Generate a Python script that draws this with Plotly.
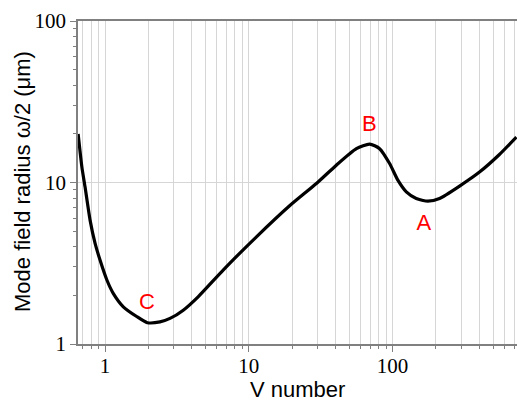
import plotly.graph_objects as go

v_number = [0.65, 0.69, 0.726, 0.787, 0.852, 0.923, 1.03, 1.14, 1.34, 1.66, 1.97,
            2.41, 2.83, 3.5, 4.44, 6.63, 11.3, 19.3, 29.5, 40.6, 56, 69.2, 81.2,
            95.3, 109, 124.5, 146, 176, 212, 292, 402, 553, 726]
mode_radius = [20, 12.5, 9.4, 5.85, 4.21, 3.31, 2.49, 2.06, 1.70, 1.48, 1.355,
               1.37, 1.44, 1.62, 1.96, 2.87, 4.61, 7.2, 9.86, 12.8, 16.2, 17.3, 16.2,
               13.1, 10.3, 8.75, 7.96, 7.66, 7.96, 9.5, 11.6, 14.9, 19.1]

point_labels = ["A", "B", "C"]
point_x = [165, 69, 1.96]
point_y = [5.52, 22.6, 1.79]

x_tickvals = [1, 10, 100]
x_ticktext = ["1", "10", "100"]
x_minor = [0.7, 0.8, 0.9, 2, 3, 4, 5, 6, 7, 8, 9, 20, 30, 40, 50, 60, 70, 80, 90,
           200, 300, 400, 500, 600, 700]
y_tickvals = [1, 10, 100]
y_ticktext = ["1", "10", "100"]
y_minor = [2, 3, 4, 5, 6, 7, 8, 9, 20, 30, 40, 50, 60, 70, 80, 90]

W, H = 517, 401
ML, MR, MT, MB = 78, 0, 21, 57
PW, PH = W - ML - MR, H - MT - MB

fig = go.Figure()
fig.add_trace(go.Scatter(x=v_number, y=mode_radius, mode="lines",
                         line=dict(color="black", width=3.2, shape="spline", smoothing=0.6),
                         showlegend=False, hoverinfo="skip"))
fig.add_trace(go.Scatter(x=point_x, y=point_y, mode="text", text=point_labels,
                         textfont=dict(family="Liberation Sans, Arial", size=22, color="#ff0000"),
                         showlegend=False, hoverinfo="skip"))

axis_font = dict(family="Liberation Serif, Times New Roman", size=21, color="black")
title_font = dict(family="Liberation Sans, Arial", size=22, color="black")

fig.update_layout(
    width=W, height=H,
    margin=dict(l=ML, r=MR, t=MT, b=MB),
    paper_bgcolor="white", plot_bgcolor="white",
    xaxis=dict(type="log", range=[-0.188, 2.865], automargin=False,
               tickmode="array", tickvals=x_tickvals, ticktext=x_ticktext,
               ticks="outside", ticklen=6, tickcolor="#808080", ticklabelstandoff=-4,
               showline=True, linecolor="#808080", linewidth=1.5, mirror=True,
               showgrid=True, gridcolor="#d6d6d6", gridwidth=1,
               minor=dict(tickmode="array", tickvals=x_minor,
                          ticks="outside", ticklen=3, tickcolor="#808080",
                          showgrid=True, gridcolor="#d6d6d6", gridwidth=1),
               tickfont=axis_font, zeroline=False),
    yaxis=dict(type="log", range=[0, 2], automargin=False,
               tickmode="array", tickvals=y_tickvals, ticktext=y_ticktext,
               ticks="outside", ticklen=6, tickcolor="#808080",
               showline=True, linecolor="#808080", linewidth=1.5,
               showgrid=True, gridcolor="#d6d6d6", gridwidth=1,
               minor=dict(tickmode="array", tickvals=y_minor,
                          ticks="outside", ticklen=3, tickcolor="#808080", showgrid=False),
               tickfont=axis_font, zeroline=False),
    annotations=[
        dict(text="V number", xref="paper", yref="paper",
             x=(297 - ML) / PW, y=(H - MB - 389) / PH,
             xanchor="center", yanchor="middle", showarrow=False, font=title_font),
        dict(text="Mode field radius ω/2 (μm)", xref="paper", yref="paper",
             x=(22 - ML) / PW, y=(H - MB - 182) / PH, textangle=-90,
             xanchor="center", yanchor="middle", showarrow=False, font=title_font),
    ],
)

fig.write_html("out.html", config={"displayModeBar": False},
               post_script="document.body.style.margin='0';document.body.style.overflow='hidden';")
